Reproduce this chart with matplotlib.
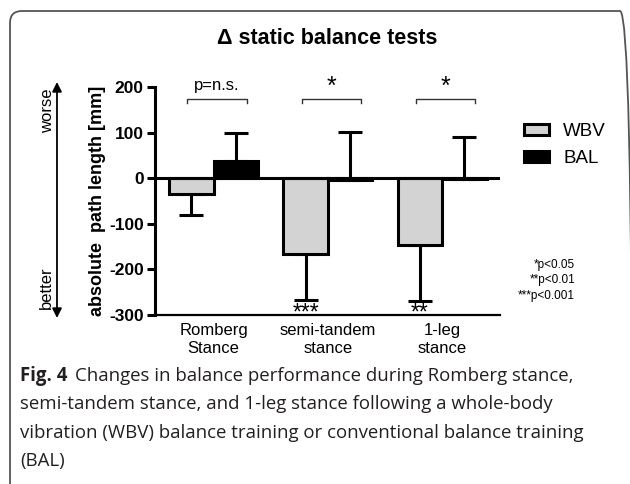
import matplotlib.pyplot as plt
from matplotlib.patches import FancyBboxPatch, Patch
import numpy as np

# data
tests = ['Romberg\nStance', 'semi-tandem\nstance', '1-leg\nstance']
wbv_mean = [-35, -167, -147]
wbv_err = [45, 99, 123]       # drawn downwards only
bal_mean = [38, -3, -2]
bal_err = [62, 104, 92]       # drawn upwards only
group_sig = ['p=n.s.', '*', '*']
wbv_sig = ['', '***', '**']

plt.rcParams['font.family'] = ['Liberation Sans', 'DejaVu Sans']
plt.rcParams['axes.unicode_minus'] = False

fig = plt.figure(figsize=(6.3, 4.84), dpi=100)
ax = fig.add_axes([0.246, 0.349, 0.548, 0.471])

x = np.arange(len(tests))
w = 0.39
lw = 2.2

ax.bar(x - w / 2, wbv_mean, w, color='#d3d3d3', edgecolor='black', linewidth=lw, zorder=3)
ax.bar(x + w / 2, bal_mean, w, color='black', edgecolor='black', linewidth=lw, zorder=3)

# one sided error bars
ax.errorbar(x - w / 2, wbv_mean, yerr=[wbv_err, [0] * 3], fmt='none', ecolor='black',
            elinewidth=lw, capsize=8.5, capthick=lw, zorder=2)
ax.errorbar(x + w / 2, bal_mean, yerr=[[0] * 3, bal_err], fmt='none', ecolor='black',
            elinewidth=lw, capsize=8.5, capthick=lw, zorder=2)

ax.axhline(0, color='black', linewidth=lw, zorder=4)

ax.set_xlim(-0.512, 2.508)
ax.set_ylim(-300, 200)
ax.set_yticks([-300, -200, -100, 0, 100, 200])
ax.set_xticks(x)
ax.set_xticklabels(tests, fontsize=12)
ax.tick_params(axis='x', length=0, pad=6)
ax.tick_params(axis='y', length=6, width=lw, labelsize=12.5, pad=2)
for lab in ax.get_yticklabels():
    lab.set_fontweight('bold')

for s in ['top', 'right']:
    ax.spines[s].set_visible(False)
ax.spines['left'].set_linewidth(lw)
ax.spines['bottom'].set_linewidth(1.6)

ax.set_ylabel('absolute  path length [mm]', fontsize=13, fontweight='bold', labelpad=2)

# significance brackets above the groups
for i, lab in enumerate(group_sig):
    x0, x1 = i - 0.23, i + 0.29
    ax.plot([x0, x0, x1, x1], [166, 174, 174, 166], color='#333333', lw=1.0, clip_on=False)
    if lab == '*':
        ax.text((x0 + x1) / 2, 186, lab, ha='center', va='baseline', fontsize=18, clip_on=False)
    else:
        ax.text((x0 + x1) / 2, 204, lab, ha='center', va='center', fontsize=12, clip_on=False)

# within group stars under the WBV bars
for i, lab in enumerate(wbv_sig):
    if lab:
        ax.text(i - w / 2, -309, lab, ha='center', va='baseline', fontsize=16.5)

# legend
handles = [Patch(facecolor='#d3d3d3', edgecolor='black', linewidth=lw),
           Patch(facecolor='black', edgecolor='black', linewidth=lw)]
ax.legend(handles, ['WBV', 'BAL'], loc='upper left', bbox_to_anchor=(1.02, 0.917), frameon=False,
          fontsize=13.5, handlelength=1.35, handleheight=0.5, handletextpad=0.75, labelspacing=0.55)

fig.text(0.913, 0.421, '*p<0.05\n**p<0.01\n***p<0.001', ha='right', va='center',
         fontsize=8.5, linespacing=1.4, multialignment='right')

fig.text(0.519, 0.921, '\u0394 static balance tests', ha='center', va='center',
         fontsize=15.5, fontweight='bold')

# better / worse arrow
ax2 = fig.add_axes([0, 0, 1, 1], facecolor='none')
ax2.set_axis_off()
ax2.set_xlim(0, 630)
ax2.set_ylim(484, 0)
ax2.annotate('', xy=(57, 82), xytext=(57, 318),
             arrowprops=dict(arrowstyle='<|-|>', color='black', lw=1.3,
                             mutation_scale=14, shrinkA=0, shrinkB=0))
ax2.text(48, 111, 'worse', rotation=90, ha='center', va='center', fontsize=12)
ax2.text(46, 288, 'better', rotation=90, ha='center', va='center', fontsize=12)

# caption
cap_font = ['Open Sans', 'DejaVu Sans']
cap_size = 13.4
fig.canvas.draw()
r = fig.canvas.get_renderer()
t = ax2.text(20, 376, 'Fig. 4', fontsize=cap_size, fontweight='bold', family=cap_font,
             va='center', ha='left', color='#231f20')
bb = t.get_window_extent(renderer=r)
ax2.text(20 + bb.width + 8, 376,
         'Changes in balance performance during Romberg stance,',
         fontsize=cap_size, family=cap_font, va='center', ha='left', color='#231f20')
lines = ['semi-tandem stance, and 1-leg stance following a whole-body',
         'vibration (WBV) balance training or conventional balance training',
         '(BAL)']
for k, line in enumerate(lines):
    ax2.text(20, 404 + 28.5 * k, line, fontsize=cap_size, family=cap_font,
             va='center', ha='left', color='#231f20')

# rounded frame of the figure panel
frame = FancyBboxPatch((10, -30), 622, 503, boxstyle='round,pad=0,rounding_size=12',
                       fill=False, edgecolor='#555555', linewidth=1.3, transform=None)
fig.patches.append(frame)

fig.savefig('out.png', dpi=100)
